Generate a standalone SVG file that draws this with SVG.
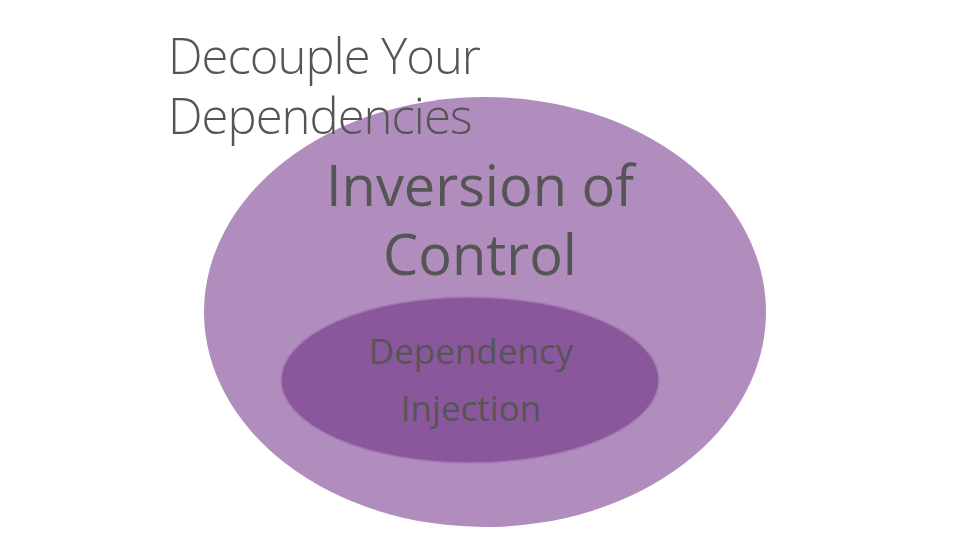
<svg xmlns="http://www.w3.org/2000/svg" width="979" height="551" viewBox="0 0 979 551">
<style>
text{font-family:"Open Sans","Noto Sans",sans-serif;fill:#555;}
.t{font-size:49px;font-weight:300;}
.c{text-anchor:middle;}
</style>
<rect width="979" height="551" fill="#fff"/>
<g id="ioc">
<ellipse cx="485" cy="312" rx="281" ry="215" fill="#B08DBD"/>
<text class="c" x="480" y="206" font-size="56">Inversion of</text>
<text class="c" x="480" y="275" font-size="56">Control</text>
</g>
<g id="di">
<ellipse cx="470" cy="380" rx="189" ry="83" fill="#8A579C" stroke="#A57BB5" stroke-width="1.5"/>
<text class="c" x="471" y="364" font-size="35">Dependency</text>
<text class="c" x="471" y="421" font-size="35">Injection</text>
</g>
<g id="title">
<text class="t" x="168" y="74" letter-spacing="-1">Decouple Your</text>
<text class="t" x="168" y="134" letter-spacing="-1">Dependencies</text>
</g>
<g id="connectors"/>
</svg>
